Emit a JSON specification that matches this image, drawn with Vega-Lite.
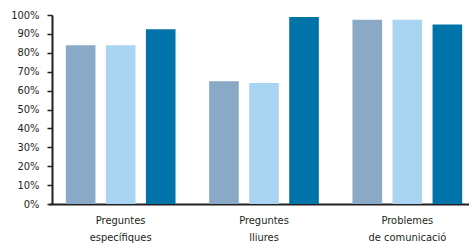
{
  "$schema": "https://vega.github.io/schema/vega-lite/v6.json",
  "width": 417,
  "height": 189,
  "autosize": "none",
  "padding": {"left": 52, "top": 15, "right": 0, "bottom": 46},
  "background": "white",
  "config": {
    "view": {"stroke": null},
    "font": "DejaVu Sans Condensed",
    "axis": {"labelFont": "DejaVu Sans Condensed", "labelColor": "#231f20", "grid": false}
  },
  "data": {
    "values": [
      {"category": "Preguntes específiques", "series": "A", "value": 0.84},
      {"category": "Preguntes específiques", "series": "B", "value": 0.84},
      {"category": "Preguntes específiques", "series": "C", "value": 0.925},
      {"category": "Preguntes lliures", "series": "A", "value": 0.65},
      {"category": "Preguntes lliures", "series": "B", "value": 0.64},
      {"category": "Preguntes lliures", "series": "C", "value": 0.99},
      {"category": "Problemes de comunicació", "series": "A", "value": 0.975},
      {"category": "Problemes de comunicació", "series": "B", "value": 0.975},
      {"category": "Problemes de comunicació", "series": "C", "value": 0.95}
    ]
  },
  "mark": {"type": "bar"},
  "encoding": {
    "x": {
      "field": "category",
      "type": "nominal",
      "sort": null,
      "scale": {"paddingInner": 0, "paddingOuter": 0, "range": [-3, 427]},
      "axis": {
        "title": null,
        "labelAngle": 0,
        "ticks": false,
        "domainColor": "#231f20",
        "domainWidth": 2,
        "labelFontSize": 11,
        "labelPadding": 10,
        "labelLineHeight": 17,
        "labelExpr": "datum.label == 'Problemes de comunicació' ? ['Problemes', 'de comunicació'] : split(datum.label, ' ')"
      }
    },
    "xOffset": {
      "field": "series",
      "type": "nominal",
      "scale": {"paddingInner": 0.26, "paddingOuter": 0.42}
    },
    "y": {
      "field": "value",
      "type": "quantitative",
      "scale": {"domain": [0, 1]},
      "axis": {
        "title": null,
        "format": ".0%",
        "values": [0, 0.1, 0.2, 0.3, 0.4, 0.5, 0.6, 0.7, 0.8, 0.9, 1],
        "tickSize": 5,
        "tickColor": "#231f20",
        "tickWidth": 1.5,
        "domainColor": "#231f20",
        "domainWidth": 2,
        "labelFontSize": 11,
        "labelPadding": 8
      }
    },
    "color": {
      "field": "series",
      "type": "nominal",
      "scale": {"domain": ["A", "B", "C"], "range": ["#89a9c7", "#aad5f2", "#0073a8"]},
      "legend": null
    }
  }
}
